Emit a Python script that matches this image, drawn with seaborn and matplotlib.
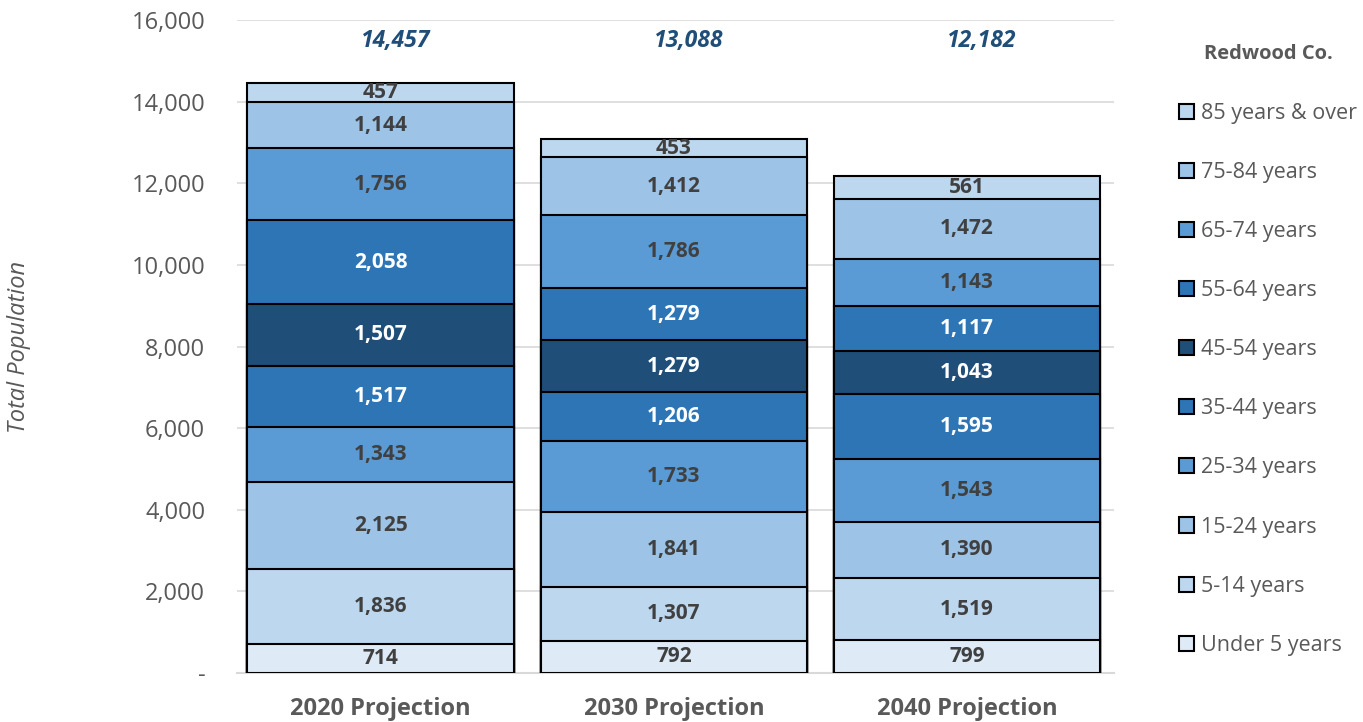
import numpy as np
import pandas as pd
import matplotlib.pyplot as plt
import seaborn as sns
from matplotlib.patches import Patch
from matplotlib.ticker import FuncFormatter

# data
projections = ['2020 Projection', '2030 Projection', '2040 Projection']
age_groups = ['Under 5 years', '5-14 years', '15-24 years', '25-34 years', '35-44 years',
              '45-54 years', '55-64 years', '65-74 years', '75-84 years', '85 years & over']
pop_2020 = [714, 1836, 2125, 1343, 1517, 1507, 2058, 1756, 1144, 457]
pop_2030 = [792, 1307, 1841, 1733, 1206, 1279, 1279, 1786, 1412, 453]
pop_2040 = [799, 1519, 1390, 1543, 1595, 1043, 1117, 1143, 1472, 561]
totals = [14457, 13088, 12182]

colors = ['#DEEBF7', '#BDD7EE', '#9DC3E6', '#5B9BD5', '#2E75B6',
          '#1F4E79', '#2E75B6', '#5B9BD5', '#9DC3E6', '#BDD7EE']
dark_groups = {'35-44 years', '45-54 years', '55-64 years'}

sns.set_style('white')
plt.rcParams['font.family'] = ['Open Sans', 'DejaVu Sans']

df = pd.DataFrame({'projection': np.repeat(projections, len(age_groups)),
                   'age': age_groups * len(projections),
                   'pop': pop_2020 + pop_2030 + pop_2040})
df['top'] = df.groupby('projection')['pop'].cumsum()
df['bottom'] = df['top'] - df['pop']

fig = plt.figure(figsize=(13.63, 7.22), dpi=100)
ax = fig.add_axes([0.174, 0.068, 0.643, 0.904])

# stacked bars: draw cumulative heights from the top layer down
for age, col in reversed(list(zip(age_groups, colors))):
    sub = df[df['age'] == age]
    sns.barplot(data=sub, x='projection', y='top', order=projections, color=col,
                width=0.91, edgecolor='black', linewidth=1.5, saturation=1, ax=ax, zorder=3)

# segment labels
for i, proj in enumerate(projections):
    sub = df[df['projection'] == proj]
    for _, row in sub.iterrows():
        tc = 'white' if row['age'] in dark_groups else '#404040'
        ax.text(i, (row['top'] + row['bottom']) / 2, f"{row['pop']:,}", ha='center', va='center',
                fontsize=15, fontweight='bold', color=tc, zorder=5)
    ax.text(i + 0.05, 15500, f"{totals[i]:,}", ha='center', va='center', fontsize=16.5,
            fontweight='bold', fontstyle='italic', color='#1F4E79')

ax.set_ylim(0, 16000)
ax.set_xlim(-0.49, 2.5)
ax.set_yticks(np.arange(0, 16001, 2000))
ax.yaxis.set_major_formatter(FuncFormatter(lambda v, p: '-' if v == 0 else f'{int(v):,}'))
ax.grid(axis='y', color='#D9D9D9', linewidth=1.2, zorder=0)
ax.set_axisbelow(True)
for s in ['left', 'right', 'top']:
    ax.spines[s].set_visible(False)
ax.spines['bottom'].set_color('#D9D9D9')
ax.spines['bottom'].set_linewidth(1.5)
ax.tick_params(axis='y', labelsize=17, labelcolor='#595959', length=0, pad=23)
ax.tick_params(axis='x', labelsize=17, labelcolor='#595959', length=0, pad=17)
for t in ax.get_xticklabels():
    t.set_fontweight('bold')
ax.set_xlabel('')
ax.set_ylabel('Total Population', fontsize=17, fontstyle='italic', color='#595959', labelpad=0)
ax.yaxis.set_label_coords(-0.235, 0.5)

handles = [Patch(facecolor=c, edgecolor='black', linewidth=1.5, label=a)
           for a, c in reversed(list(zip(age_groups, colors)))]
leg = fig.legend(handles=handles, title='Redwood Co.', loc='upper left',
                 bbox_to_anchor=(0.851, 0.966), frameon=False, fontsize=15.5,
                 title_fontproperties={'weight': 'bold', 'size': 14.5},
                 labelspacing=1.77, handlelength=0.7, handleheight=0.7, handletextpad=0.3)
for t in leg.get_texts():
    t.set_color('#595959')
leg.get_title().set_color('#595959')
leg._legend_box.sep = 28

fig.savefig('out.png', dpi=100)
